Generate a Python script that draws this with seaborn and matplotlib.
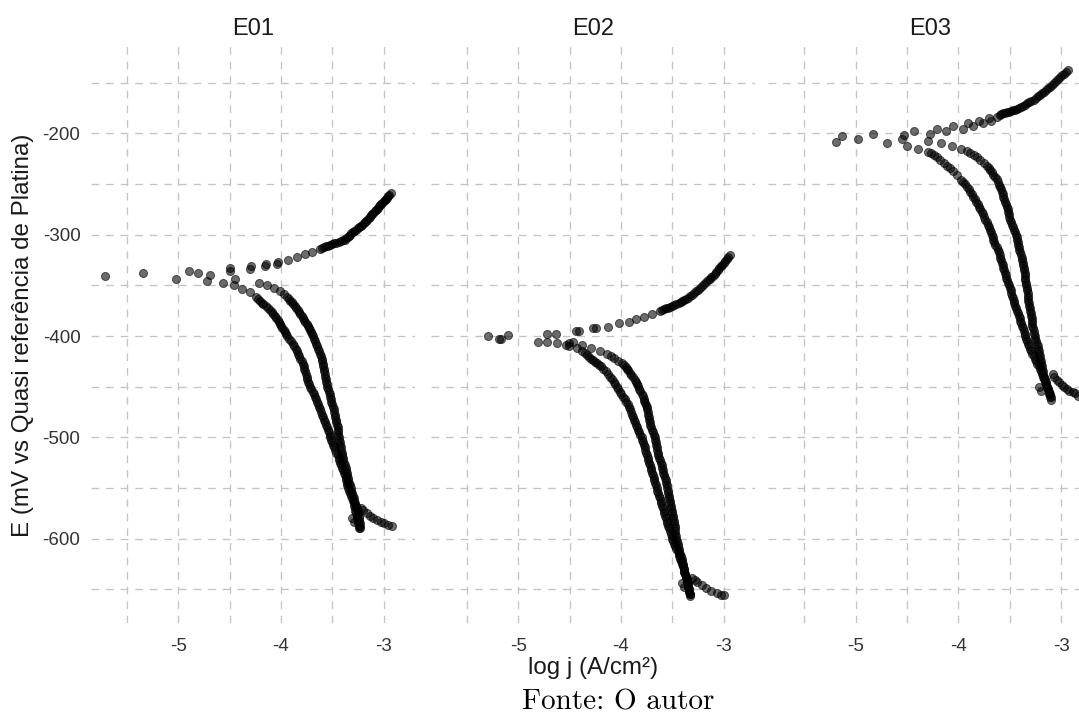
import matplotlib
matplotlib.use("Agg")
import matplotlib.pyplot as plt
import numpy as np
import pandas as pd
import seaborn as sns
from matplotlib.ticker import FixedLocator

# ---------------- data (log j [A/cm2], E [mV]) ----------------
samples = ["E01", "E02", "E03"]

E01_anodic = [(-5.71, -341), (-5.34, -338), (-5.02, -344), (-4.89, -336), (-4.81, -338),
              (-4.69, -340), (-4.72, -346), (-4.50, -333), (-4.50, -336), (-4.45, -344),
              (-4.29, -331), (-4.30, -334), (-4.15, -329), (-4.16, -331), (-4.03, -327),
              (-4.04, -329), (-3.93, -325), (-3.84, -322), (-3.77, -319), (-3.70, -317),
              (-3.62, -314), (-3.60, -313), (-3.58, -312), (-3.56, -311.5), (-3.54, -311),
              (-3.52, -310), (-3.50, -309), (-3.48, -308.5), (-3.46, -308), (-3.44, -307),
              (-3.42, -306), (-3.40, -305.5), (-3.38, -305), (-3.365, -303.5), (-3.35, -302),
              (-3.34, -301), (-3.33, -300), (-3.315, -298.5), (-3.30, -297), (-3.285, -296),
              (-3.27, -295), (-3.255, -293.5), (-3.24, -292), (-3.225, -291), (-3.21, -290),
              (-3.195, -288.5), (-3.18, -287), (-3.17, -286), (-3.16, -285), (-3.145, -283.5),
              (-3.13, -282), (-3.12, -281), (-3.11, -280), (-3.10, -278.5), (-3.09, -277),
              (-3.08, -276), (-3.07, -275), (-3.06, -273.5), (-3.05, -272), (-3.04, -271),
              (-3.03, -270), (-3.015, -268.5), (-3.00, -267), (-2.99, -266), (-2.98, -265),
              (-2.97, -263.5), (-2.96, -262), (-2.945, -260.5), (-2.93, -259)]
E01_cathodic_a = [(-4.56, -348), (-4.46, -350), (-4.38, -354), (-4.30, -357), (-4.24, -361),
                  (-4.22, -363), (-4.20, -365), (-4.18, -367), (-4.17, -368), (-4.15, -370),
                  (-4.13, -372), (-4.11, -374), (-4.09, -376), (-4.075, -378), (-4.06, -380),
                  (-4.045, -382), (-4.03, -384), (-4.02, -386), (-4.01, -388), (-4.00, -390),
                  (-3.99, -392), (-3.975, -394), (-3.96, -396), (-3.95, -398), (-3.94, -400),
                  (-3.92, -402.5), (-3.90, -405), (-3.885, -407.5), (-3.87, -410), (-3.855, -412.5),
                  (-3.84, -415), (-3.83, -417.5), (-3.82, -420), (-3.81, -422.5), (-3.80, -425),
                  (-3.79, -427.5), (-3.78, -430), (-3.775, -432.5), (-3.77, -435), (-3.76, -437.5),
                  (-3.75, -440), (-3.745, -442.5), (-3.74, -445), (-3.73, -447.5), (-3.72, -450),
                  (-3.705, -452.5), (-3.69, -455), (-3.68, -457.5), (-3.67, -460), (-3.66, -462.5),
                  (-3.65, -465), (-3.64, -467.5), (-3.63, -470), (-3.62, -472.5), (-3.61, -475),
                  (-3.60, -477.5), (-3.59, -480), (-3.58, -482.5), (-3.57, -485), (-3.56, -487.5),
                  (-3.55, -490), (-3.54, -492.5), (-3.53, -495), (-3.525, -497.5), (-3.52, -500),
                  (-3.51, -502.5), (-3.50, -505), (-3.49, -507.5), (-3.48, -510), (-3.47, -512.5),
                  (-3.46, -515), (-3.45, -517.5), (-3.44, -520), (-3.435, -522.5), (-3.43, -525),
                  (-3.42, -527.5), (-3.41, -530), (-3.40, -532.5), (-3.39, -535), (-3.38, -537.5),
                  (-3.37, -540), (-3.365, -542.5), (-3.36, -545), (-3.355, -547.5), (-3.35, -550),
                  (-3.34, -552.5), (-3.33, -555), (-3.32, -557.5), (-3.31, -560), (-3.30, -562.5),
                  (-3.29, -565), (-3.285, -567.5), (-3.28, -570), (-3.275, -572.5), (-3.27, -575),
                  (-3.265, -577.5), (-3.26, -580), (-3.255, -582.5), (-3.25, -585), (-3.245, -587.5),
                  (-3.24, -590)]
E01_cathodic_b = [(-4.21, -348), (-4.14, -350), (-4.07, -353), (-4.01, -356), (-3.97, -358.5),
                  (-3.94, -361), (-3.925, -363), (-3.91, -365), (-3.895, -366.5), (-3.88, -368),
                  (-3.865, -370), (-3.85, -372), (-3.835, -374), (-3.82, -376), (-3.81, -378),
                  (-3.80, -380), (-3.79, -382), (-3.78, -384), (-3.765, -386), (-3.75, -388),
                  (-3.74, -390), (-3.73, -392), (-3.72, -394), (-3.71, -396), (-3.70, -398),
                  (-3.69, -400), (-3.68, -402.5), (-3.67, -405), (-3.66, -407.5), (-3.65, -410),
                  (-3.64, -412.5), (-3.63, -415), (-3.62, -417.5), (-3.61, -420), (-3.605, -422.5),
                  (-3.60, -425), (-3.595, -427.5), (-3.59, -430), (-3.585, -432.5), (-3.58, -435),
                  (-3.575, -437.5), (-3.57, -440), (-3.565, -442.5), (-3.56, -445), (-3.555, -447.5),
                  (-3.55, -450), (-3.54, -452.5), (-3.53, -455), (-3.525, -457.5), (-3.52, -460),
                  (-3.515, -462.5), (-3.51, -465), (-3.50, -467.5), (-3.49, -470), (-3.485, -472.5),
                  (-3.48, -475), (-3.475, -477.5), (-3.47, -480), (-3.465, -482.5), (-3.46, -485),
                  (-3.455, -487.5), (-3.45, -490), (-3.45, -492.5), (-3.45, -495), (-3.445, -497.5),
                  (-3.44, -500), (-3.435, -502.5), (-3.43, -505), (-3.425, -507.5), (-3.42, -510),
                  (-3.415, -512.5), (-3.41, -515), (-3.405, -517.5), (-3.40, -520), (-3.395, -522.5),
                  (-3.39, -525), (-3.38, -527.5), (-3.37, -530), (-3.365, -532.5), (-3.36, -535),
                  (-3.355, -537.5), (-3.35, -540), (-3.345, -542.5), (-3.34, -545), (-3.33, -547.5),
                  (-3.32, -550), (-3.315, -552.5), (-3.31, -555), (-3.30, -557.5), (-3.29, -560),
                  (-3.285, -562.5), (-3.28, -565), (-3.27, -567.5), (-3.26, -570), (-3.255, -572.5),
                  (-3.25, -575), (-3.245, -577.5), (-3.24, -580), (-3.238, -582.5), (-3.235, -585),
                  (-3.232, -587.5), (-3.23, -590)]
E01_tail = [(-3.31, -580), (-3.29, -584), (-3.22, -570), (-3.20, -572), (-3.16, -575),
            (-3.13, -578), (-3.10, -580), (-3.07, -582), (-3.03, -584), (-3.00, -585),
            (-2.96, -586.5), (-2.92, -588)]

E02_anodic = [(-5.29, -400), (-5.19, -403), (-5.17, -403), (-5.10, -399), (-4.81, -406),
              (-4.72, -398), (-4.63, -398), (-4.72, -406), (-4.62, -407), (-4.51, -407),
              (-4.51, -410), (-4.44, -395), (-4.41, -395), (-4.27, -392), (-4.24, -392),
              (-4.13, -391), (-4.02, -387.5), (-3.92, -386), (-3.85, -383), (-3.78, -381),
              (-3.70, -378), (-3.62, -375), (-3.60, -374), (-3.58, -373), (-3.56, -372.5),
              (-3.54, -372), (-3.52, -371), (-3.50, -370), (-3.48, -369), (-3.46, -368),
              (-3.44, -367), (-3.42, -366), (-3.405, -365), (-3.39, -364.5), (-3.37, -363),
              (-3.35, -362), (-3.33, -360.5), (-3.31, -359), (-3.29, -357.5), (-3.27, -356),
              (-3.25, -354.5), (-3.23, -353), (-3.21, -351), (-3.19, -349), (-3.17, -347),
              (-3.15, -345), (-3.135, -343.5), (-3.12, -342), (-3.105, -340.5), (-3.09, -339),
              (-3.075, -337), (-3.06, -335), (-3.045, -333), (-3.03, -331), (-3.015, -329.5),
              (-3.00, -328), (-2.985, -326), (-2.97, -324), (-2.955, -322), (-2.94, -320)]
E02_cathodic_a = [(-4.53, -409), (-4.43, -412), (-4.38, -414.5), (-4.35, -417), (-4.33, -419),
                  (-4.31, -421), (-4.29, -422.5), (-4.27, -424), (-4.25, -425.5), (-4.23, -427),
                  (-4.21, -428.5), (-4.19, -430), (-4.17, -432.5), (-4.15, -435), (-4.13, -437.5),
                  (-4.11, -440), (-4.09, -442.5), (-4.07, -445), (-4.055, -447.5), (-4.04, -450),
                  (-4.025, -452.5), (-4.01, -455), (-3.995, -457.5), (-3.98, -460), (-3.965, -462.5),
                  (-3.95, -465), (-3.935, -467.5), (-3.92, -470), (-3.91, -472.5), (-3.90, -475),
                  (-3.89, -477.5), (-3.88, -480), (-3.87, -482.5), (-3.86, -485), (-3.85, -487.5),
                  (-3.84, -490), (-3.83, -492.5), (-3.82, -495), (-3.81, -497.5), (-3.80, -500),
                  (-3.795, -502.5), (-3.79, -505), (-3.78, -507.5), (-3.77, -510), (-3.765, -512.5),
                  (-3.76, -515), (-3.75, -517.5), (-3.74, -520), (-3.735, -522.5), (-3.73, -525),
                  (-3.72, -527.5), (-3.71, -530), (-3.705, -532.5), (-3.70, -535), (-3.69, -537.5),
                  (-3.68, -540), (-3.675, -542.5), (-3.67, -545), (-3.66, -547.5), (-3.65, -550),
                  (-3.645, -552.5), (-3.64, -555), (-3.63, -557.5), (-3.62, -560), (-3.615, -562.5),
                  (-3.61, -565), (-3.60, -567.5), (-3.59, -570), (-3.585, -572.5), (-3.58, -575),
                  (-3.57, -577.5), (-3.56, -580), (-3.555, -582.5), (-3.55, -585), (-3.54, -587.5),
                  (-3.53, -590), (-3.52, -592.5), (-3.51, -595), (-3.505, -597.5), (-3.50, -600),
                  (-3.49, -602.5), (-3.48, -605), (-3.47, -607.5), (-3.46, -610), (-3.45, -612.5),
                  (-3.44, -615), (-3.435, -617.5), (-3.43, -620), (-3.42, -622.5), (-3.41, -625),
                  (-3.40, -627.5), (-3.39, -630), (-3.385, -632.5), (-3.38, -635), (-3.37, -637.5),
                  (-3.36, -640), (-3.355, -642.5), (-3.35, -645), (-3.345, -647.5), (-3.34, -650),
                  (-3.335, -652.5), (-3.33, -655), (-3.33, -657)]
E02_cathodic_b = [(-4.47, -406), (-4.38, -409), (-4.29, -412), (-4.20, -415), (-4.14, -418),
                  (-4.10, -420), (-4.07, -422), (-4.03, -424.5), (-3.99, -427), (-3.97, -429),
                  (-3.95, -431), (-3.94, -432.5), (-3.93, -434), (-3.915, -436), (-3.90, -438),
                  (-3.88, -440.5), (-3.86, -443), (-3.85, -445), (-3.84, -447), (-3.83, -449.5),
                  (-3.82, -452), (-3.81, -454.5), (-3.80, -457), (-3.79, -459.5), (-3.78, -462),
                  (-3.775, -464), (-3.77, -466), (-3.76, -468), (-3.75, -470), (-3.745, -472.5),
                  (-3.74, -475), (-3.735, -477.5), (-3.73, -480), (-3.725, -482.5), (-3.72, -485),
                  (-3.715, -487.5), (-3.71, -490), (-3.70, -492.5), (-3.69, -495), (-3.68, -497.5),
                  (-3.67, -500), (-3.665, -502.5), (-3.66, -505), (-3.655, -507.5), (-3.65, -510),
                  (-3.645, -512.5), (-3.64, -515), (-3.635, -517.5), (-3.63, -520), (-3.62, -522.5),
                  (-3.61, -525), (-3.605, -527.5), (-3.60, -530), (-3.595, -532.5), (-3.59, -535),
                  (-3.58, -537.5), (-3.57, -540), (-3.565, -542.5), (-3.56, -545), (-3.555, -547.5),
                  (-3.55, -550), (-3.545, -552.5), (-3.54, -555), (-3.535, -557.5), (-3.53, -560),
                  (-3.525, -562.5), (-3.52, -565), (-3.515, -567.5), (-3.51, -570), (-3.505, -572.5),
                  (-3.50, -575), (-3.495, -577.5), (-3.49, -580), (-3.485, -582.5), (-3.48, -585),
                  (-3.475, -587.5), (-3.47, -590), (-3.47, -592.5), (-3.47, -595), (-3.465, -597.5),
                  (-3.46, -600), (-3.455, -602.5), (-3.45, -605), (-3.445, -607.5), (-3.44, -610),
                  (-3.435, -612.5), (-3.43, -615), (-3.42, -617.5), (-3.41, -620), (-3.405, -622.5),
                  (-3.40, -625), (-3.395, -627.5), (-3.39, -630), (-3.385, -632.5), (-3.38, -635),
                  (-3.37, -637.5), (-3.36, -640), (-3.355, -642.5), (-3.35, -645), (-3.345, -647.5),
                  (-3.34, -650), (-3.335, -652.5), (-3.33, -655)]
E02_tail = [(-3.41, -644), (-3.39, -648), (-3.31, -639), (-3.28, -641), (-3.26, -642.5),
            (-3.21, -646), (-3.17, -649), (-3.12, -652), (-3.07, -654), (-3.03, -656),
            (-3.00, -656)]

E03_anodic = [(-5.19, -208), (-5.13, -203), (-4.98, -205), (-4.83, -201), (-4.70, -209),
              (-4.55, -205.5), (-4.53, -201.6), (-4.50, -212), (-4.43, -197.4), (-4.30, -207.5),
              (-4.28, -200.6), (-4.21, -195.7), (-4.12, -197.3), (-4.05, -192.4), (-3.96, -195.7),
              (-3.91, -190), (-3.86, -192.7), (-3.80, -187.5), (-3.76, -190), (-3.70, -184.5),
              (-3.68, -187.8), (-3.63, -183.5), (-3.60, -182), (-3.585, -181), (-3.57, -180.2),
              (-3.55, -179.5), (-3.53, -179), (-3.51, -178.5), (-3.49, -178), (-3.47, -177),
              (-3.45, -176.5), (-3.43, -176), (-3.41, -175.2), (-3.39, -174), (-3.37, -173),
              (-3.35, -171.5), (-3.33, -170.3), (-3.31, -169), (-3.29, -168), (-3.27, -166.5),
              (-3.25, -165.3), (-3.23, -163.5), (-3.21, -162), (-3.19, -160.5), (-3.17, -158.8),
              (-3.15, -157), (-3.13, -155.5), (-3.11, -154), (-3.09, -152.2), (-3.07, -150),
              (-3.05, -148), (-3.03, -146), (-3.01, -144), (-2.99, -142.5), (-2.97, -141),
              (-2.95, -139), (-2.93, -137.4)]
E03_cathodic_a = [(-4.39, -215.7), (-4.30, -218), (-4.27, -219.5), (-4.24, -221.3), (-4.21, -223.5),
                  (-4.18, -226), (-4.145, -229), (-4.11, -231.7), (-4.08, -234.5), (-4.05, -237.5),
                  (-4.015, -241.5), (-3.98, -246), (-3.96, -248), (-3.94, -250), (-3.92, -252.5),
                  (-3.90, -255), (-3.885, -257.5), (-3.87, -260), (-3.855, -262.5), (-3.84, -265),
                  (-3.825, -267.5), (-3.81, -270), (-3.80, -272.5), (-3.79, -275), (-3.775, -277.5),
                  (-3.76, -280), (-3.75, -282.5), (-3.74, -285), (-3.725, -287.5), (-3.71, -290),
                  (-3.70, -292.5), (-3.69, -295), (-3.68, -297.5), (-3.67, -300), (-3.665, -302.5),
                  (-3.66, -305), (-3.65, -307.5), (-3.64, -310), (-3.63, -312.5), (-3.62, -315),
                  (-3.61, -317.5), (-3.60, -320), (-3.595, -322.5), (-3.59, -325), (-3.58, -327.5),
                  (-3.57, -330), (-3.565, -332.5), (-3.56, -335), (-3.55, -337.5), (-3.54, -340),
                  (-3.535, -342.5), (-3.53, -345), (-3.52, -347.5), (-3.51, -350), (-3.50, -352.5),
                  (-3.49, -355), (-3.485, -357.5), (-3.48, -360), (-3.47, -362.5), (-3.46, -365),
                  (-3.455, -367.5), (-3.45, -370), (-3.44, -372.5), (-3.43, -375), (-3.42, -377.5),
                  (-3.41, -380), (-3.405, -382.5), (-3.40, -385), (-3.39, -387.5), (-3.38, -390),
                  (-3.37, -392.5), (-3.36, -395), (-3.355, -397.5), (-3.35, -400), (-3.34, -402.5),
                  (-3.33, -405), (-3.32, -407.5), (-3.31, -410), (-3.30, -412.5), (-3.29, -415),
                  (-3.28, -417.5), (-3.27, -420), (-3.26, -422.5), (-3.25, -425), (-3.235, -427.5),
                  (-3.22, -430), (-3.21, -432.5), (-3.20, -435), (-3.19, -437.5), (-3.18, -440),
                  (-3.17, -442.5), (-3.16, -445), (-3.15, -447.5), (-3.14, -450), (-3.13, -452.5),
                  (-3.12, -455), (-3.11, -457.5), (-3.10, -460)]
E03_cathodic_b = [(-4.17, -209), (-4.06, -212), (-3.98, -215.4), (-3.92, -217.5), (-3.885, -219.5),
                  (-3.85, -221.3), (-3.82, -223.5), (-3.79, -226), (-3.755, -229), (-3.72, -232.5),
                  (-3.705, -234), (-3.69, -236), (-3.675, -238.5), (-3.66, -240.6), (-3.645, -243),
                  (-3.63, -245), (-3.62, -247.5), (-3.61, -250.5), (-3.60, -252.5), (-3.59, -255),
                  (-3.58, -257.5), (-3.57, -260), (-3.565, -262.5), (-3.56, -265), (-3.55, -267.5),
                  (-3.54, -270), (-3.53, -272.5), (-3.52, -275), (-3.515, -277.5), (-3.51, -280),
                  (-3.505, -282.5), (-3.50, -285), (-3.49, -287.5), (-3.48, -290), (-3.47, -292.5),
                  (-3.46, -295), (-3.45, -297.5), (-3.44, -300), (-3.435, -302.5), (-3.43, -305),
                  (-3.425, -307.5), (-3.42, -310), (-3.415, -312.5), (-3.41, -315), (-3.40, -317.5),
                  (-3.39, -320), (-3.385, -322.5), (-3.38, -325), (-3.375, -327.5), (-3.37, -330),
                  (-3.365, -332.5), (-3.36, -335), (-3.355, -337.5), (-3.35, -340), (-3.35, -342.5),
                  (-3.35, -345), (-3.345, -347.5), (-3.34, -350), (-3.335, -352.5), (-3.33, -355),
                  (-3.325, -357.5), (-3.32, -360), (-3.32, -362.5), (-3.32, -365), (-3.315, -367.5),
                  (-3.31, -370), (-3.305, -372.5), (-3.30, -375), (-3.295, -377.5), (-3.29, -380),
                  (-3.285, -382.5), (-3.28, -385), (-3.28, -387.5), (-3.28, -390), (-3.275, -392.5),
                  (-3.27, -395), (-3.265, -397.5), (-3.26, -400), (-3.255, -402.5), (-3.25, -405),
                  (-3.24, -407.5), (-3.23, -410), (-3.225, -412.5), (-3.22, -415), (-3.215, -417.5),
                  (-3.21, -420), (-3.205, -422.5), (-3.20, -425), (-3.195, -427.5), (-3.19, -430),
                  (-3.185, -432.5), (-3.18, -435), (-3.175, -437.5), (-3.17, -440), (-3.16, -442.5),
                  (-3.15, -445), (-3.145, -447.5), (-3.14, -450), (-3.13, -452.5), (-3.12, -455),
                  (-3.115, -457.5), (-3.11, -460), (-3.10, -463)]
E03_tail = [(-3.22, -450), (-3.20, -454), (-3.08, -437), (-3.07, -440), (-3.04, -443),
            (-3.02, -445), (-2.99, -448), (-2.97, -450), (-2.94, -452), (-2.92, -454),
            (-2.89, -455.5), (-2.87, -456.6), (-2.84, -459)]

x_major = [-5, -4, -3]
x_minor = [-5.5, -4.5, -3.5]
y_major = [-600, -500, -400, -300, -200]
y_minor = [-650, -550, -450, -350, -250, -150]

ylabel_text = "E (mV vs Quasi referência de Platina)"
xlabel_text = "log j (A/cm²)"
caption_text = "Fonte: O autor"

branches = {
    "E01": [E01_anodic, E01_cathodic_a, E01_cathodic_b, E01_tail],
    "E02": [E02_anodic, E02_cathodic_a, E02_cathodic_b, E02_tail],
    "E03": [E03_anodic, E03_cathodic_a, E03_cathodic_b, E03_tail],
}
rows = []
for s, blist in branches.items():
    for b in blist:
        for lj, e in b:
            rows.append((s, lj, e))
df = pd.DataFrame(rows, columns=["amostra", "logj", "E"])

# ---------------- styling ----------------
sns.set_theme(style="white")
plt.rcParams["font.family"] = ["Liberation Sans", "DejaVu Sans"]
plt.rcParams["axes.unicode_minus"] = False
plt.rcParams["lines.scale_dashes"] = False

W, H = 1079, 727
fig = plt.figure(figsize=(W / 100, H / 100), dpi=100)
fig.patch.set_facecolor("white")

centers = [252.7, 592.7, 930.2]
pw = 323.8
top_px, bot_px = 43.7, 622.7
xlim = (-5.85, -2.70)
ylim = (-683.0, -111.4)
grid_kw = dict(color="#c4c4c4", linestyle=(0, (5.5, 5.0)), linewidth=0.95)

for i, s in enumerate(samples):
    ax = fig.add_axes([(centers[i] - pw / 2) / W, 1 - bot_px / H, pw / W, (bot_px - top_px) / H])
    sub = df[df["amostra"] == s]
    sns.scatterplot(data=sub, x="logj", y="E", ax=ax, s=34, color="black",
                    edgecolor="black", linewidth=0.7, alpha=0.58, legend=False, zorder=3)
    ax.set_xlim(*xlim)
    ax.set_ylim(*ylim)
    ax.xaxis.set_major_locator(FixedLocator(x_major))
    ax.xaxis.set_minor_locator(FixedLocator(x_minor))
    ax.yaxis.set_major_locator(FixedLocator(y_major))
    ax.yaxis.set_minor_locator(FixedLocator(y_minor))
    ax.set_xticklabels([str(v) for v in x_major])
    ax.grid(which="both", **grid_kw)
    ax.set_axisbelow(True)
    for sp in ax.spines.values():
        sp.set_visible(False)
    ax.tick_params(which="both", length=0)
    ax.tick_params(axis="x", labelsize=13.5, labelcolor="#333333", pad=11)
    ax.tick_params(axis="y", labelsize=13.5, labelcolor="#333333", pad=7.5)
    if i == 0:
        ax.set_yticklabels([str(v) for v in y_major])
    else:
        ax.set_yticklabels([])
    ax.set_xlabel("")
    ax.set_ylabel("")
    ax.set_title(s, fontsize=17, color="#1a1a1a", pad=6)

fig.text(23 / W, 1 - 335 / H, ylabel_text, rotation=90, ha="center", va="center",
         fontsize=17.4, color="#1a1a1a")
fig.text(592.7 / W, 1 - 668 / H, xlabel_text, ha="center", va="center",
         fontsize=17.4, color="#1a1a1a")
fig.text(618 / W, 1 - 702 / H, caption_text, ha="center", va="center",
         fontsize=21, color="black", family=["cmr10", "DejaVu Serif"])

fig.savefig("out.png", dpi=100, facecolor="white")
